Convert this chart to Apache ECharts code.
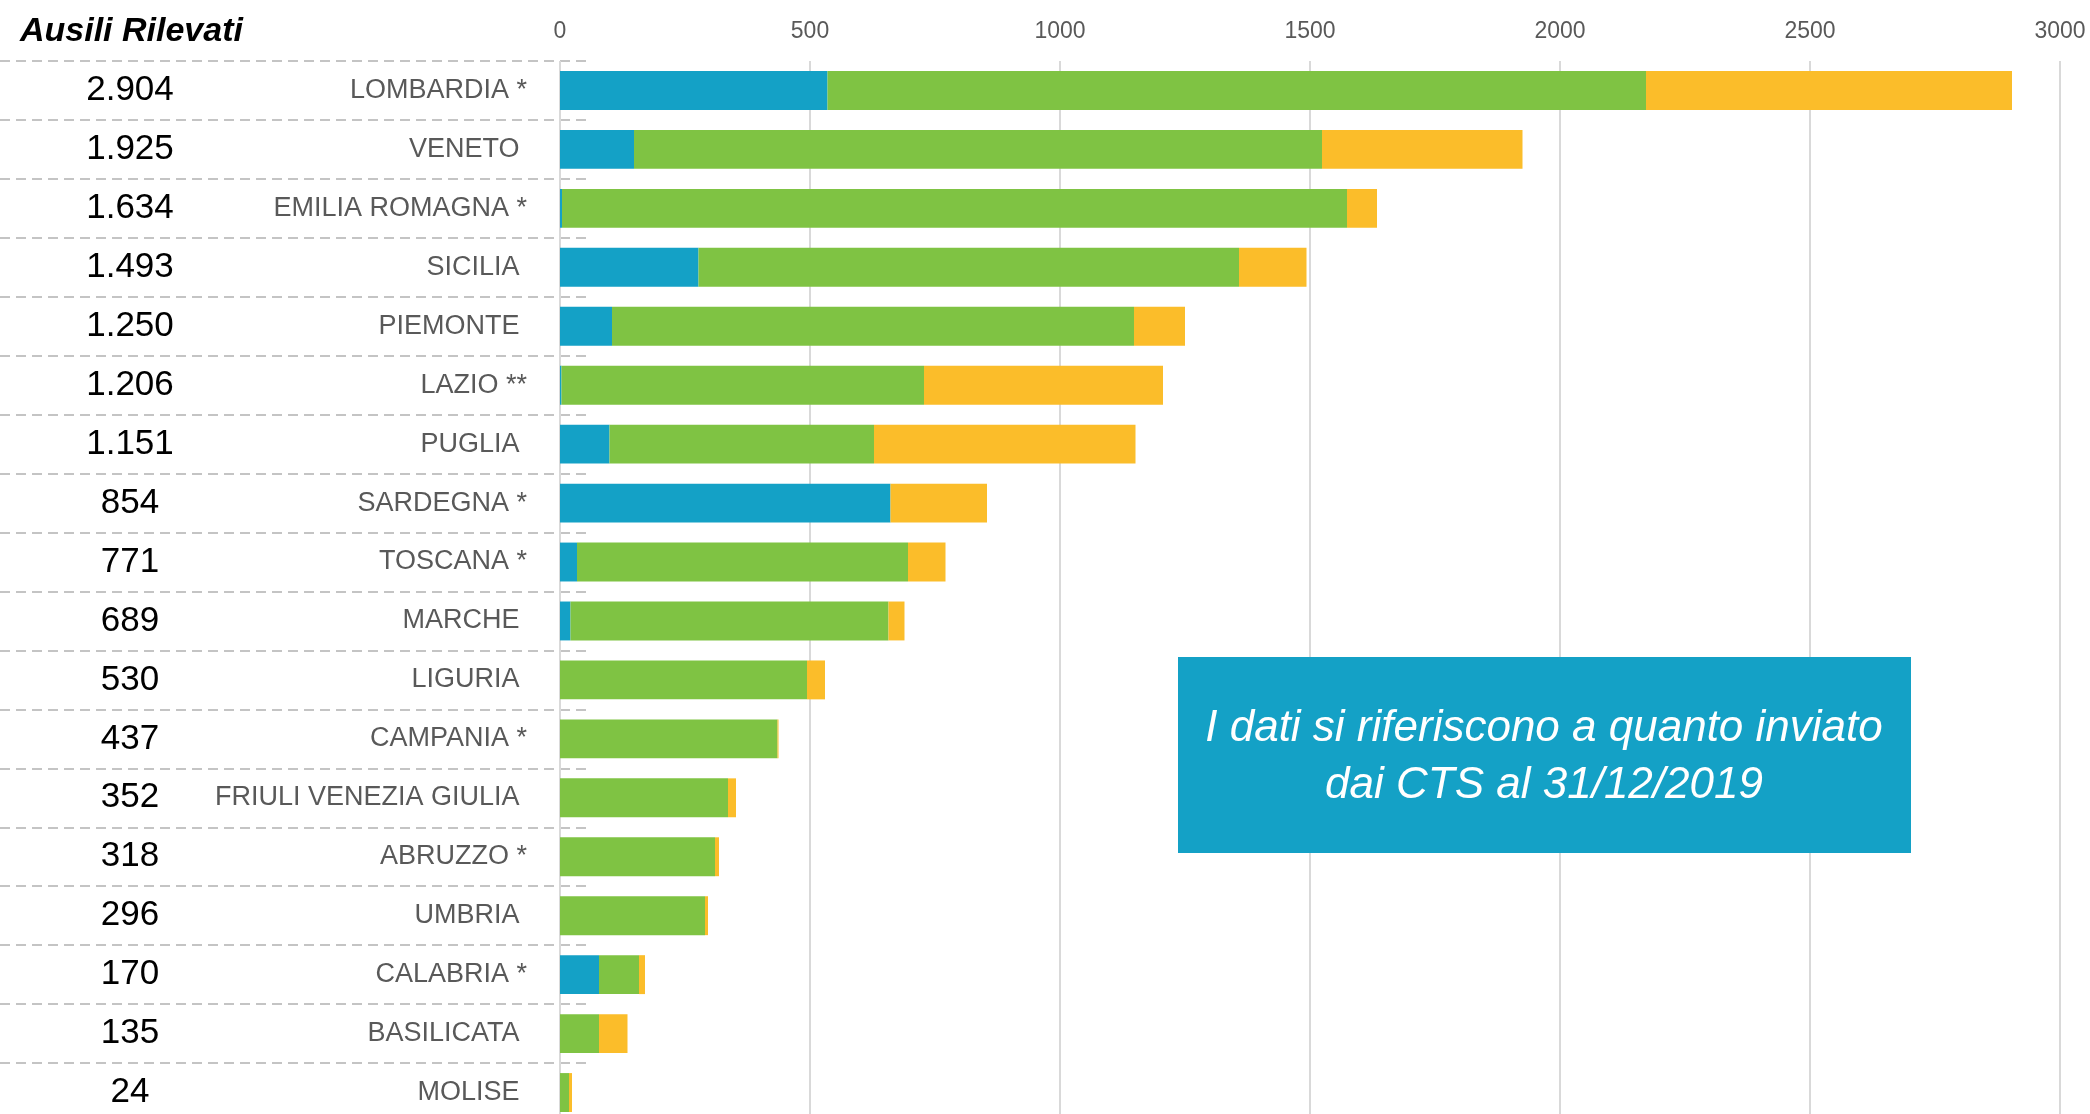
<!DOCTYPE html>
<html>
<head>
<meta charset="utf-8">
<title>Ausili Rilevati</title>
<script src="https://cdn.jsdelivr.net/npm/echarts@6/dist/echarts.min.js"></script>
<style>
    html, body { margin: 0; padding: 0; background: #fff; }
    #main { width: 2090px; height: 1114px; }
</style>
</head>
<body>
<div id="main"></div>
<script>
// regioni (dall'alto in basso)
const regioni = ['LOMBARDIA *', 'VENETO ', 'EMILIA ROMAGNA *', 'SICILIA ', 'PIEMONTE ', 'LAZIO **',
    'PUGLIA ', 'SARDEGNA *', 'TOSCANA *', 'MARCHE ', 'LIGURIA ', 'CAMPANIA *',
    'FRIULI VENEZIA GIULIA ', 'ABRUZZO *', 'UMBRIA ', 'CALABRIA *', 'BASILICATA ', 'MOLISE '];
// totali scritti a sinistra
const totali = [2904, 1925, 1634, 1493, 1250, 1206, 1151, 854, 771, 689, 530, 437, 352, 318, 296, 170, 135, 24];
// le tre parti di ogni barra
const blu    = [535, 148, 4, 277, 104, 3, 99, 661, 34, 21, 0, 0, 0, 0, 0, 78, 0, 0];
const verde  = [1637, 1376, 1570, 1081, 1044, 725, 529, 0, 662, 636, 494, 435, 336, 310, 290, 80, 78, 18];
const giallo = [732, 401, 60, 135, 102, 478, 523, 193, 75, 32, 36, 2, 16, 8, 6, 12, 57, 6];
const tickX = [0, 500, 1000, 1500, 2000, 2500, 3000];

const colors = ['#14A1C6', '#7FC343', '#FBBD2A'];
const FONT = '"Liberation Sans", Arial, sans-serif';

function migliaia(n) {
    return String(n).replace(/\B(?=(\d{3})+(?!\d))/g, '.');
}

const myChart = echarts.init(document.getElementById('main'), null, { renderer: 'canvas' });

const option = {
    animation: false,
    color: colors,
    title: {
        text: 'Ausili Rilevati',
        left: 15,
        top: 10,
        textStyle: { fontFamily: FONT, fontSize: 34, fontWeight: 'bold', fontStyle: 'italic', color: '#000' }
    },
    grid: [
        { left: 560, right: 30, top: 61, height: 1061, outerBoundsMode: 'none' },   // barre
        { left: 0, width: 588, top: 61, height: 1061, outerBoundsMode: 'none' }     // righe tratteggiate
    ],
    xAxis: [
        {
            type: 'value',
            gridIndex: 0,
            position: 'top',
            min: tickX[0],
            max: tickX[tickX.length - 1],
            interval: 500,
            axisLine: { show: false },
            axisTick: { show: false },
            axisLabel: {
                margin: 18, fontFamily: FONT, fontSize: 23, color: '#595959',
                formatter: v => String(v)
            },
            splitLine: { show: true, lineStyle: { color: '#d9d9d9', width: 2 } }
        },
        { type: 'value', gridIndex: 1, show: false }
    ],
    yAxis: [
        {
            type: 'category',
            gridIndex: 0,
            inverse: true,
            data: regioni,
            position: 'left',
            axisLine: { show: false },
            axisTick: { show: false },
            axisLabel: { interval: 0, margin: 33, fontFamily: FONT, fontSize: 27, color: '#595959' }
        },
        {
            type: 'category',
            gridIndex: 0,
            inverse: true,
            data: totali.map(migliaia),
            position: 'left',
            offset: 0,
            axisLine: { show: false },
            axisTick: { show: false },
            axisLabel: { interval: 0, margin: 430, align: 'center', fontFamily: FONT, fontSize: 35, color: '#000' }
        },
        {
            type: 'category',
            gridIndex: 1,
            inverse: true,
            data: regioni,
            axisLine: { show: false },
            axisTick: { show: false },
            axisLabel: { show: false },
            splitLine: { show: true, interval: 0, lineStyle: { color: '#c4c4c4', width: 2, type: [10, 6] } }
        }
    ],
    series: [
        { name: 'blu', type: 'bar', stack: 'tot', data: blu, barCategoryGap: '34%' },
        { name: 'verde', type: 'bar', stack: 'tot', data: verde, barCategoryGap: '34%' },
        { name: 'giallo', type: 'bar', stack: 'tot', data: giallo, barCategoryGap: '34%' }
    ],
    graphic: [
        {
            type: 'rect',
            shape: { x: 1178, y: 657, width: 733, height: 196 },
            style: { fill: '#14A1C6' },
            z: 100
        },
        {
            type: 'text',
            x: 1544,
            y: 757,
            z: 101,
            style: {
                text: 'I dati si riferiscono a quanto inviato\ndai CTS al 31/12/2019',
                fill: '#fff',
                font: 'italic 44px ' + FONT,
                lineHeight: 57,
                align: 'center',
                verticalAlign: 'middle'
            }
        }
    ]
};
myChart.setOption(option);
</script>
</body>
</html>
